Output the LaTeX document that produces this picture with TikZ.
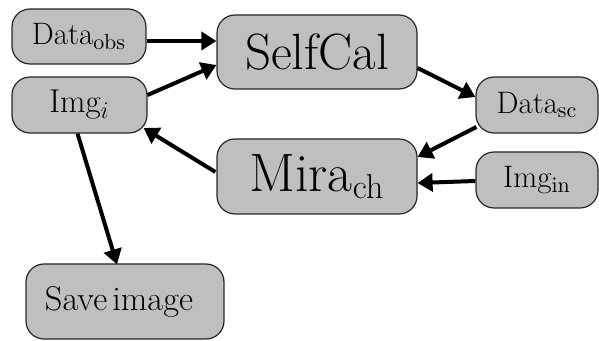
\documentclass[tikz,border=0pt]{standalone}
\usetikzlibrary{arrows.meta,calc}
\begin{document}
\begin{tikzpicture}[x=0.5pt,y=-0.5pt,
  box/.style={draw=black!85,line width=0.6pt,fill=lightgray,rounded corners=9pt,inner sep=0pt},
  small/.style={box,font=\fontsize{15.5}{18}\selectfont},
  big/.style={box,font=\fontsize{25.5}{30}\selectfont},
  arr/.style={line width=2pt,-{Triangle[length=7.5pt,width=9pt]}}]
\useasboundingbox (0,0) rectangle (599,341);
\node[small,minimum width=67pt,minimum height=27.5pt] (dobs) at (79,36.5) {Data$_{\mathrm{obs}}$};
\node[big,minimum width=100pt,minimum height=37pt] (selfcal) at (317,52) {SelfCal};
\node[small,minimum width=67.5pt,minimum height=28pt,font=\fontsize{16.5}{18}\selectfont] (imgi) at (79.5,105) {Img$_{i}$};
\node[small,minimum width=61pt,minimum height=28pt] (dsc) at (537,105) {Data$_{\mathrm{sc}}$};
\node[big,minimum width=100pt,minimum height=37.5pt,font=\fontsize{27}{30}\selectfont] (mira) at (317,176.5) {Mira$_{\mathrm{ch}}$};
\node[small,minimum width=61pt,minimum height=28pt] (imgin) at (537,180) {Img$_{\mathrm{in}}$};
\node[small,minimum width=99pt,minimum height=37.5pt,font=\fontsize{17.2}{20}\selectfont] (save) at (125,301.5) {Save\kern0.15em image\kern6pt};
\draw[arr] ($(dobs.east)+(0,4.5)$) -- ($(selfcal.west)+(0,-11)$);
\draw[arr] ($(imgi.east)+(0,-10)$) -- ($(selfcal.west)+(0,13)$);
\draw[arr] ($(selfcal.east)+(0,16)$) -- ($(dsc.west)+(0,-8)$);
\draw[arr] ($(dsc.west)+(1,22)$) -- ($(mira.east)+(0,-19.5)$);
\draw[arr] ($(imgin.west)+(0,1)$) -- ($(mira.east)+(0,6.5)$);
\draw[arr] ($(mira.west)+(-1,-4.5)$) -- ($(imgi.east)+(-4,23)$);
\draw[arr] ($(imgi.south)+(-2,0)$) -- ($(save.north)+(-8,1)$);
\end{tikzpicture}
\end{document}
